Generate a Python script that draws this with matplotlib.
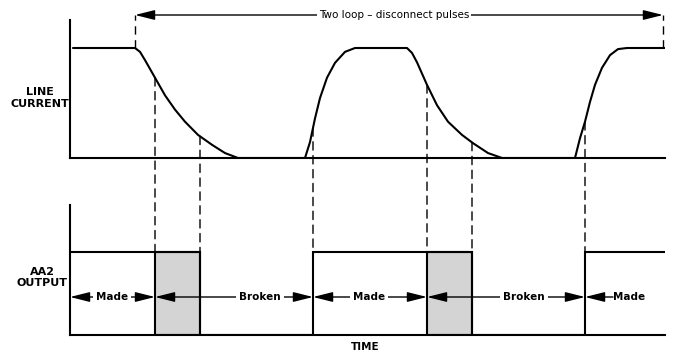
import matplotlib.pyplot as plt
import numpy as np
from matplotlib.patches import ConnectionPatch

plt.rcParams['font.family'] = ['Liberation Sans Narrow', 'DejaVu Sans']

# line current trace (time in arbitrary units, current normalised to full loop current)
t_current = [3, 65, 70, 75, 85, 95, 105, 115, 128, 142, 155, 168,
             235, 240, 245, 250, 257, 265, 275, 285,
             337, 342, 347, 357, 367, 378, 392, 403, 418, 432,
             505, 510, 515, 520, 525, 532, 540, 548, 557, 595]
current = [1, 1, 0.965, 0.89, 0.73, 0.57, 0.44, 0.33, 0.21, 0.12, 0.045, 0,
           0, 0.145, 0.36, 0.545, 0.73, 0.865, 0.965, 1,
           1, 0.955, 0.87, 0.665, 0.48, 0.33, 0.21, 0.135, 0.045, 0,
           0, 0.18, 0.33, 0.51, 0.665, 0.82, 0.935, 0.99, 1, 1]

# AA2 output: switching instants and the level held between them
out_edges = [0, 130, 243, 402, 515, 595]
out_levels = [1, 0, 1, 0, 1]

# grey bands: output still high although the loop is already opening
shade_spans = [(85, 130), (357, 402)]

# dashed drop lines from the current trace down to the output
marker_times = [85, 130, 243, 357, 402, 515]

# Made / Broken spans along the output
span_edges = [0, 85, 243, 357, 515]
span_labels = ['Made', 'Broken', 'Made', 'Broken']
label_times = [42, 190, 299, 454]

# overall two-pulse span on top
pulse_span = (65, 593)

W, H = 675, 352
fig = plt.figure(figsize=(W / 100, H / 100), dpi=100)
ax_top = fig.add_axes([70 / W, (H - 158) / H, 595 / W, 138 / H])
ax_bot = fig.add_axes([70 / W, (H - 335) / H, 595 / W, 130 / H])

for ax in (ax_top, ax_bot):
    ax.set_xlim(0, 595)
    for s in ('top', 'right'):
        ax.spines[s].set_visible(False)
    for s in ('left', 'bottom'):
        ax.spines[s].set_linewidth(1.5)
    ax.set_xticks([])
    ax.set_yticks([])
    ax.patch.set_alpha(0)
ax_top.set_ylim(0, 138 / 110)
ax_bot.set_ylim(0, 130 / 83)

txt = dict(fontsize=8, fontweight='bold', linespacing=1.15)

# line current
ax_top.plot(t_current, current, color='black', lw=1.5, solid_capstyle='round')
ax_top.text(-30, 0.545, 'LINE\nCURRENT', ha='center', va='center', **txt)

# two loop-disconnect pulses arrow
y_arrow = 143 / 110
ax_top.annotate('', xy=(pulse_span[0], y_arrow), xytext=(pulse_span[1], y_arrow),
                annotation_clip=False,
                arrowprops=dict(arrowstyle='<|-|>,head_length=1.2,head_width=0.3',
                                color='black', lw=1, shrinkA=0, shrinkB=0,
                                mutation_scale=10))
ax_top.text(324, y_arrow, 'Two loop – disconnect pulses', ha='center', va='center',
            fontsize=7.5, clip_on=False, zorder=5,
            bbox=dict(fc='white', ec='none', pad=1.5))
for t in pulse_span:
    ax_top.plot([t, t], [1, y_arrow], color='black', lw=1, ls=(0, (6, 4)), clip_on=False)

# output trace
for a, b in shade_spans:
    ax_bot.bar(a, 1, width=b - a, align='edge', color='#d4d4d4',
               edgecolor='black', lw=1.5, zorder=1)
ax_bot.stairs(out_levels, out_edges, baseline=None, color='black', lw=1.5, zorder=2)
ax_bot.text(-28, 0.69, 'AA2\nOUTPUT', ha='center', va='center', **txt)
ax_bot.text(295, -0.145, 'TIME', ha='center', va='center', clip_on=False,
            fontsize=7.5, fontweight='bold')

# drop lines
for t in marker_times:
    y0 = np.interp(t, t_current, current)
    con = ConnectionPatch(xyA=(t, y0), coordsA=ax_top.transData,
                          xyB=(t, 1), coordsB=ax_bot.transData,
                          color='black', lw=1, ls=(0, (6, 4)))
    fig.add_artist(con)

# Made / Broken arrows
y_span = 38 / 83
arrow = dict(color='black', lw=1, shrinkA=0, shrinkB=0, mutation_scale=10)
lab = dict(fontsize=7.5, fontweight='bold', ha='center', va='center', zorder=5,
           bbox=dict(fc='white', ec='none', pad=2))
for i, name in enumerate(span_labels):
    ax_bot.annotate('', xy=(span_edges[i], y_span), xytext=(span_edges[i + 1], y_span),
                    arrowprops=dict(arrowstyle='<|-|>,head_length=1.2,head_width=0.3', **arrow))
    ax_bot.text(label_times[i], y_span, name, **lab)
ax_bot.annotate('', xy=(span_edges[-1], y_span), xytext=(span_edges[-1] + 28, y_span),
                arrowprops=dict(arrowstyle='-|>,head_length=1.2,head_width=0.3', **arrow))
ax_bot.text(559, y_span, 'Made', fontsize=7.5, fontweight='bold', ha='center', va='center')

fig.savefig('out.png', dpi=100)
